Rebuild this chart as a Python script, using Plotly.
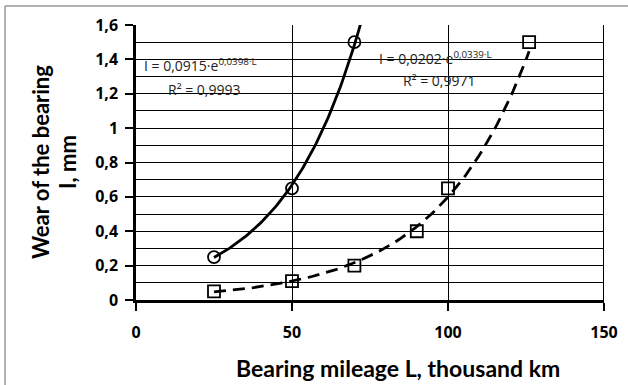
import numpy as np
import plotly.graph_objects as go

# Data
mileage_circ = [25, 50, 70]
wear_circ = [0.25, 0.65, 1.5]
mileage_sq = [25, 50, 70, 90, 100, 126]
wear_sq = [0.05, 0.11, 0.2, 0.4, 0.65, 1.5]

# Trendline coefficients shown on the chart (I = a*e^(b*L))
coef_circ = (0.0915, 0.0398)
coef_sq = (0.0202, 0.0339)
trend_circ_range = (25, 72)
trend_sq_range = (25, 126)

x_ticks = [0, 50, 100, 150]
y_ticks = [0, 0.2, 0.4, 0.6, 0.8, 1, 1.2, 1.4, 1.6]

L1 = np.linspace(*trend_circ_range, 80)
I1 = coef_circ[0] * np.exp(coef_circ[1] * L1)
L2 = np.linspace(*trend_sq_range, 120)
I2 = coef_sq[0] * np.exp(coef_sq[1] * L2)

fig = go.Figure()
fig.add_trace(go.Scatter(x=L1, y=I1, mode="lines",
                         line=dict(color="black", width=2.8),
                         showlegend=False, hoverinfo="skip"))
fig.add_trace(go.Scatter(x=L2, y=I2, mode="lines",
                         line=dict(color="black", width=2.8, dash="12px,7px"),
                         showlegend=False, hoverinfo="skip"))
fig.add_trace(go.Scatter(x=mileage_circ, y=wear_circ, mode="markers",
                         marker=dict(symbol="circle-open", size=12, color="black",
                                     line=dict(width=1.8, color="black")),
                         showlegend=False, cliponaxis=False))
fig.add_trace(go.Scatter(x=mileage_sq, y=wear_sq, mode="markers",
                         marker=dict(symbol="square-open", size=12, color="black",
                                     line=dict(width=1.8, color="black")),
                         showlegend=False, cliponaxis=False))

ann_font = dict(family="Open Sans, Liberation Sans, sans-serif", size=14, color="#222")
fig.add_annotation(x=0.013, y=1.365, xref="paper", yref="y", xanchor="left", yanchor="middle",
                   text="I = 0,0915·e<sup>0,0398·L</sup>", showarrow=False, font=ann_font)
fig.add_annotation(x=0.064, y=1.225, xref="paper", yref="y", xanchor="left", yanchor="middle",
                   text="R² = 0,9993", showarrow=False, font=ann_font)
fig.add_annotation(x=0.515, y=1.41, xref="paper", yref="y", xanchor="left", yanchor="middle",
                   text="I = 0,0202·e<sup>0,0339·L</sup>", showarrow=False, font=ann_font)
fig.add_annotation(x=0.566, y=1.28, xref="paper", yref="y", xanchor="left", yanchor="middle",
                   text="R² = 0,9971", showarrow=False, font=ann_font)

# Axis titles
title_font = dict(family="Lato, Open Sans, sans-serif", size=22, color="black", weight="bold")
xtitle_font = dict(title_font, size=23)
fig.add_annotation(x=(398-136)/468, y=(300-368)/275, xref="paper", yref="paper",
                   xanchor="center", yanchor="middle", showarrow=False,
                   text="Bearing mileage L, thousand km", font=xtitle_font)
fig.add_annotation(x=(40-136)/468, y=(300-162)/275, xref="paper", yref="paper",
                   xanchor="center", yanchor="middle", showarrow=False, textangle=-90,
                   text="Wear of the bearing", font=title_font)
fig.add_annotation(x=(67-136)/468, y=(300-162)/275, xref="paper", yref="paper",
                   xanchor="center", yanchor="middle", showarrow=False, textangle=-90,
                   text="I, mm", font=title_font)

# Outer chart border (left and top only visible)
fig.add_shape(type="line", xref="paper", yref="paper", x0=(5-136)/468, x1=(5-136)/468,
              y0=(300-390)/275, y1=(300-6)/275, line=dict(color="#9a9a9a", width=1.5))
fig.add_shape(type="line", xref="paper", yref="paper", x0=(5-136)/468, x1=(630-136)/468,
              y0=(300-6)/275, y1=(300-6)/275, line=dict(color="#9a9a9a", width=1.5))

tick_font = dict(family="Open Sans, sans-serif", size=16, color="black", weight="bold")

fig.update_xaxes(range=[0, 150], tickvals=x_ticks, ticks="outside", ticklen=8, tickwidth=2,
                 tickcolor="black", showline=True, linecolor="black", linewidth=2.5,
                 mirror=False, showgrid=True, gridcolor="black", gridwidth=1,
                 zeroline=False, tickfont=tick_font, automargin=False, ticklabelstandoff=8)
fig.update_yaxes(range=[0, 1.6], tickvals=y_ticks, ticks="outside", ticklen=8, tickwidth=2,
                 tickcolor="black", showline=True, linecolor="black", linewidth=2.5,
                 showgrid=True, gridcolor="black", gridwidth=1, zeroline=False,
                 minor=dict(dtick=0.1, showgrid=True, gridcolor="black", gridwidth=1),
                 tickfont=tick_font, automargin=False, ticklabelstandoff=4)

# Right border of plot area
fig.add_shape(type="line", xref="x", yref="paper", x0=150, x1=150, y0=0, y1=1,
              line=dict(color="black", width=2))

fig.update_layout(width=628, height=385, margin=dict(l=136, r=24, t=25, b=85),
                  plot_bgcolor="white", paper_bgcolor="white", separators=", ",
                  showlegend=False)
fig.write_html("out.html", config={"displayModeBar": False},
               post_script="document.body.style.margin='0';document.body.style.padding='0';document.body.style.overflow='hidden';")
